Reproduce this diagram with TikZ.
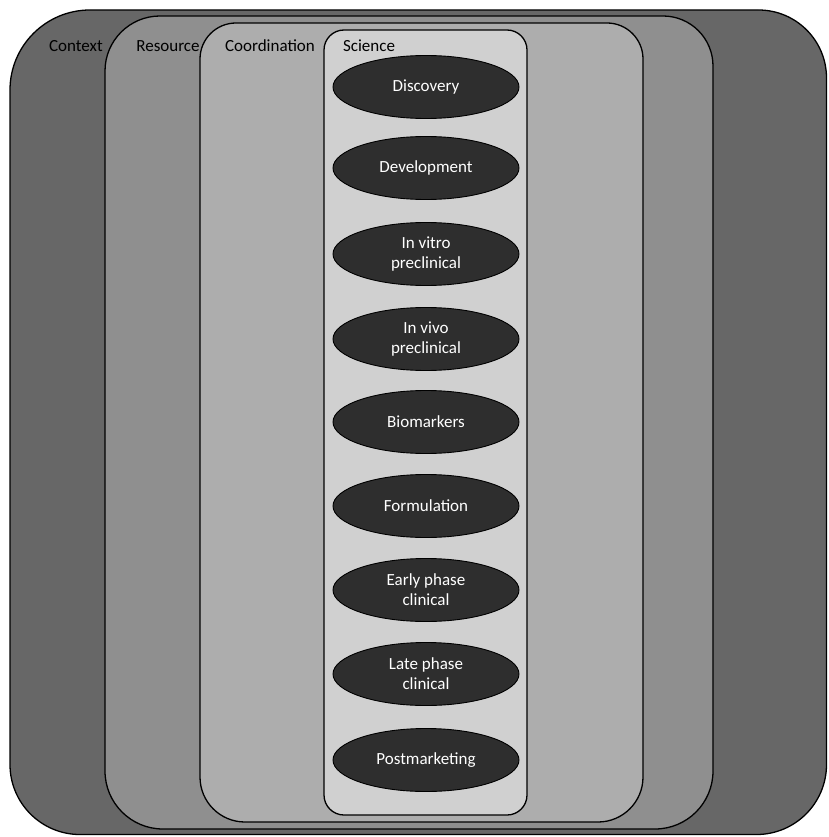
\documentclass[tikz,border=0pt]{standalone}
\usepackage{fontspec}
\setmainfont{Carlito}
\usetikzlibrary{shapes.geometric}
\definecolor{ctxfill}{HTML}{676767}
\definecolor{resfill}{HTML}{8F8F8F}
\definecolor{coofill}{HTML}{ADADAD}
\definecolor{scifill}{HTML}{D0D0D0}
\definecolor{stagefill}{HTML}{2E2E2E}
% #1 L, #2 T, #3 R, #4 B, #5 rtl, #6 rtr, #7 rbr, #8 rbl, #9 fill
\newcommand\layerbox[9]{%
  \draw[layer, fill=#9] ({#1},{-(#2)-(#5)}) arc[start angle=180,end angle=90,radius=#5]
    -- ({#3-(#6)},{-(#2)}) arc[start angle=90,end angle=0,radius=#6]
    -- ({#3},{-(#4)+(#7)}) arc[start angle=0,end angle=-90,radius=#7]
    -- ({#1+(#8)},{-(#4)}) arc[start angle=270,end angle=180,radius=#8]
    -- cycle;}
\begin{document}
\begin{tikzpicture}[x=1pt,y=1pt,
  layer/.style={draw=black, line width=1.3pt},
  stage/.style={ellipse, draw=black, line width=0.9pt, fill=stagefill, text=white,
    minimum width=186pt, minimum height=63pt, inner sep=0pt, align=center,
    font=\fontsize{17}{20}\selectfont},
  tag/.style={font=\fontsize{17}{20}\selectfont, inner sep=0pt, text=black}]
\useasboundingbox (0,0) rectangle (828,-837);
\layerbox{10}{10}{826.5}{834.5}{80}{68}{70}{70}{ctxfill}
\layerbox{105}{16}{713}{829}{55}{50}{58}{58}{resfill}
\layerbox{200}{23}{643}{822}{36}{36}{45}{45}{coofill}
\layerbox{324}{30}{527}{815}{20}{20}{20}{20}{scifill}
\node[tag] (lctx) at (76,-46) {Context};
\node[tag] (lres) at (168,-46) {Resource};
\node[tag] (lcoo) at (270,-46) {Coordination};
\node[tag] (lsci) at (369,-46) {Science};
\node[stage] (s1) at (426,-87) {Discovery};
\node[stage] (s2) at (426,-168) {Development};
\node[stage] (s3) at (426,-254) {In vitro\\preclinical};
\node[stage] (s4) at (426,-339) {In vivo\\preclinical};
\node[stage] (s5) at (426,-422) {Biomarkers};
\node[stage] (s6) at (426,-506) {Formulation};
\node[stage] (s7) at (426,-590) {Early phase\\clinical};
\node[stage] (s8) at (426,-674) {Late phase\\clinical};
\node[stage] (s9) at (426,-760) {Postmarketing};
\end{tikzpicture}
\end{document}
